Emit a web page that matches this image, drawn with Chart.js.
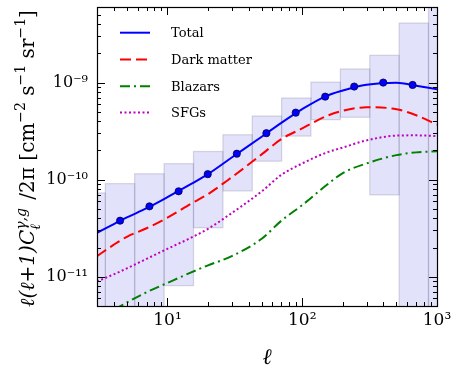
<!DOCTYPE html>
<html><head><meta charset="utf-8">
<script src="https://cdn.jsdelivr.net/npm/chart.js@4/dist/chart.umd.min.js"></script>
<style>html,body{margin:0;padding:0;background:#fff;}canvas{display:block;}</style>
</head><body>
<canvas id="c" width="463" height="371"></canvas>
<script>
// multipole grid for the model curves
const ell = [3, 4, 5, 7, 10, 15, 20, 30, 50, 70, 100, 150, 200, 300, 500, 700, 1000];
const total = [2.84e-11, 3.49e-11, 4.08e-11, 5.08e-11, 6.61e-11, 9.03e-11, 1.14e-10, 1.69e-10, 2.77e-10, 3.85e-10, 5.33e-10, 7.26e-10, 8.28e-10, 9.47e-10, 9.95e-10, 9.27e-10, 8.53e-10];
const darkMatter = [1.63e-11, 2.14e-11, 2.58e-11, 3.16e-11, 4.06e-11, 5.66e-11, 7.1e-11, 1.06e-10, 1.82e-10, 2.62e-10, 3.37e-10, 4.49e-10, 5.12e-10, 5.56e-10, 5.32e-10, 4.6e-10, 3.7e-10];
const blazars = [3.67e-12, 4.55e-12, 5.44e-12, 6.93e-12, 8.65e-12, 1.11e-11, 1.31e-11, 1.63e-11, 2.46e-11, 3.78e-11, 5.47e-11, 8.69e-11, 1.17e-10, 1.47e-10, 1.79e-10, 1.91e-10, 1.96e-10];
const sfgs = [8.95e-12, 1.06e-11, 1.22e-11, 1.53e-11, 1.94e-11, 2.53e-11, 3.12e-11, 4.53e-11, 7.57e-11, 1.12e-10, 1.47e-10, 1.89e-10, 2.14e-10, 2.54e-10, 2.84e-10, 2.86e-10, 2.81e-10];
// binned measurement boxes
const binEdges = [2.09, 3.46, 5.71, 9.44, 15.6, 25.8, 42.6, 70.3, 116, 192, 317, 524, 865, 1430];
const binLow  = [1e-13, 1e-13, 1e-13, 8.1e-12, 3.2e-11, 7.66e-11, 1.55e-10, 2.81e-10, 4.15e-10, 4.39e-10, 6.97e-11, 1e-13, 1e-13];
const binHigh = [7.3e-11, 9.1e-11, 1.15e-10, 1.46e-10, 1.95e-10, 2.9e-10, 4.52e-10, 6.93e-10, 1.01e-9, 1.38e-9, 1.91e-9, 4.1e-9, 1e-7];
// model total at bin centres
const binCenters = [4.45, 7.35, 12.1, 19.9, 32.7, 54.2, 89.5, 148, 243, 399, 659];
const binTotal = [3.78e-11, 5.31e-11, 7.59e-11, 1.14e-10, 1.85e-10, 3.01e-10, 4.9e-10, 7.16e-10, 9.1e-10, 1.0e-9, 9.45e-10];
const xTickLabels = {1: '10\u00B9', 2: '10\u00B2', 3: '10\u00B3'};
const yTickLabels = {'-11': '10\u207B\u00B9\u00B9', '-10': '10\u207B\u00B9\u2070', '-9': '10\u207B\u2079'};
const legendLabels = ['Total', 'Dark matter', 'Blazars', 'SFGs'];
const xLimits = [3, 1000];
const yLimits = [5e-12, 6e-9];

const SERIF = '"DejaVu Serif", "Liberation Serif", serif';
const pts = (xs, ys) => xs.map((x, i) => ({x: x, y: ys[i]}));

const styles = [
  {color: '#0000ff', dash: []},
  {color: '#ff0000', dash: [11, 5]},
  {color: '#008000', dash: [10, 4, 2, 4]},
  {color: '#bf00bf', dash: [2, 2.5]}
];
const series = [total, darkMatter, blazars, sfgs];

function decadeLabel(map, v) {
  const l = Math.log10(v);
  const r = Math.round(l);
  if (Math.abs(l - r) < 1e-6 && map[String(r)] !== undefined) return map[String(r)];
  return '';
}

const boxesPlugin = {
  id: 'boxes',
  beforeDatasetsDraw(chart) {
    const {ctx, chartArea: a, scales: {x, y}} = chart;
    ctx.save();
    ctx.beginPath();
    ctx.rect(a.left, a.top, a.right - a.left, a.bottom - a.top);
    ctx.clip();
    for (let i = 0; i < binLow.length; i++) {
      const x0 = x.getPixelForValue(binEdges[i]);
      const x1 = x.getPixelForValue(binEdges[i + 1]);
      const y0 = y.getPixelForValue(binHigh[i]);
      const y1 = y.getPixelForValue(binLow[i]);
      ctx.fillStyle = 'rgba(20,20,220,0.12)';
      ctx.fillRect(x0, y0, x1 - x0, y1 - y0);
      ctx.strokeStyle = 'rgba(130,130,160,0.3)';
      ctx.lineWidth = 1.2;
      ctx.strokeRect(x0, y0, x1 - x0, y1 - y0);
    }
    ctx.restore();
  }
};

const framePlugin = {
  id: 'frame',
  afterDraw(chart) {
    const {ctx, chartArea: a, scales: {x, y}} = chart;
    ctx.save();
    ctx.strokeStyle = '#000';
    ctx.lineWidth = 1;
    // minor / major ticks pointing inward, on all four sides
    for (let d = -13; d <= 4; d++) {
      for (let m = 1; m <= 9; m++) {
        const v = m * Math.pow(10, d);
        const len = m === 1 ? 8 : 4;
        if (v >= xLimits[0] * 0.9999 && v <= xLimits[1] * 1.0001) {
          const px = Math.round(x.getPixelForValue(v)) + 0.5;
          ctx.beginPath();
          ctx.moveTo(px, a.bottom); ctx.lineTo(px, a.bottom - len);
          ctx.moveTo(px, a.top); ctx.lineTo(px, a.top + len);
          ctx.stroke();
        }
        if (v >= yLimits[0] * 0.9999 && v <= yLimits[1] * 1.0001) {
          const py = Math.round(y.getPixelForValue(v)) + 0.5;
          ctx.beginPath();
          ctx.moveTo(a.left, py); ctx.lineTo(a.left + len, py);
          ctx.moveTo(a.right, py); ctx.lineTo(a.right - len, py);
          ctx.stroke();
        }
      }
    }
    ctx.lineWidth = 1.2;
    ctx.strokeRect(Math.round(a.left) + 0.5, Math.round(a.top) + 0.5,
                   Math.round(a.right - a.left), Math.round(a.bottom - a.top));

    // legend (inside the axes, no frame)
    const fs0 = 14;
    ctx.font = fs0 + 'px ' + SERIF;
    const w = ctx.measureText('Dark matter').width;
    const fs = fs0 * 81 / w;
    ctx.font = fs + 'px ' + SERIF;
    ctx.textBaseline = 'middle';
    ctx.textAlign = 'left';
    const rows = [32.7, 59.5, 86.2, 112.5];
    legendLabels.forEach((lab, i) => {
      const st = styles[i];
      ctx.beginPath();
      ctx.setLineDash(st.dash);
      ctx.strokeStyle = st.color;
      ctx.lineWidth = 2;
      ctx.moveTo(a.left + 23, rows[i]);
      ctx.lineTo(a.left + 53, rows[i]);
      ctx.stroke();
      ctx.setLineDash([]);
      ctx.fillStyle = '#000';
      ctx.fillText(lab, a.left + 74, rows[i] + 1);
    });

    // y-axis title with sub/superscripts
    const segs = [
      {t: '\u2113(\u2113+1)', it: true},
      {t: 'C', it: true},
      {stack: [{t: '\u03B3,g', it: true, dy: -0.42}, {t: '\u2113', it: true, dy: 0.28}]},
      {t: ' /2\u03C0 [cm'},
      {t: '\u22122', sup: true},
      {t: ' s'},
      {t: '\u22121', sup: true},
      {t: ' sr'},
      {t: '\u22121', sup: true},
      {t: ']'}
    ];
    const base = 20;
    const fontFor = (s, size) => (s.it ? 'italic ' : '') + size + 'px ' + SERIF;
    const measure = (size) => {
      let L = 0;
      segs.forEach(s => {
        if (s.stack) {
          let mw = 0;
          s.stack.forEach(q => { ctx.font = fontFor(q, size * 0.7); mw = Math.max(mw, ctx.measureText(q.t).width); });
          L += mw + size * 0.1;
        } else {
          ctx.font = fontFor(s, s.sup ? size * 0.7 : size);
          L += ctx.measureText(s.t).width;
        }
      });
      return L;
    };
    const L0 = measure(base);
    const size = base * 297 / L0;
    const L = measure(size);
    ctx.translate(34, 158.5);
    ctx.rotate(-Math.PI / 2);
    ctx.textBaseline = 'alphabetic';
    ctx.fillStyle = '#000';
    let cx = -L / 2;
    segs.forEach(s => {
      if (s.stack) {
        let mw = 0;
        s.stack.forEach(q => {
          ctx.font = fontFor(q, size * 0.7);
          ctx.fillText(q.t, cx, q.dy * size);
          mw = Math.max(mw, ctx.measureText(q.t).width);
        });
        cx += mw + size * 0.1;
      } else {
        const sz = s.sup ? size * 0.7 : size;
        ctx.font = fontFor(s, sz);
        ctx.fillText(s.t, cx, s.sup ? -0.45 * size : 0);
        cx += ctx.measureText(s.t).width;
      }
    });
    ctx.restore();
  }
};

const lineDatasets = series.map((s, i) => ({
  type: 'line',
  label: legendLabels[i],
  data: pts(ell, s),
  borderColor: styles[i].color,
  borderDash: styles[i].dash,
  borderWidth: 2,
  pointRadius: 0,
  fill: false,
  cubicInterpolationMode: 'monotone'
}));

const zeroPad = (s) => { s.paddingTop = 0; s.paddingBottom = 0; s.paddingLeft = 0; s.paddingRight = 0; };

new Chart(document.getElementById('c'), {
  type: 'line',
  data: {
    datasets: [
      {
        type: 'scatter',
        label: 'Total (bins)',
        data: pts(binCenters, binTotal),
        pointRadius: 3.6,
        pointBackgroundColor: '#0000ff',
        pointBorderColor: '#000040',
        pointBorderWidth: 0.8,
        showLine: false
      },
      ...lineDatasets
    ]
  },
  options: {
    responsive: false,
    animation: false,
    devicePixelRatio: 1,
    layout: {padding: {top: 7, right: 26, left: 0, bottom: 0}},
    plugins: {legend: {display: false}, tooltip: {enabled: false}},
    scales: {
      x: {
        type: 'logarithmic',
        position: 'bottom',
        min: xLimits[0], max: xLimits[1],
        grid: {display: false, drawTicks: false},
        border: {display: false},
        ticks: {
          autoSkip: false, maxRotation: 0, padding: 4, color: '#000',
          font: {family: SERIF, size: 17},
          callback: (v) => decadeLabel(xTickLabels, v)
        },
        title: {display: true, text: '\u2113', color: '#000', padding: {top: 0, bottom: 0},
                font: {family: SERIF, size: 22, style: 'italic'}},
        afterFit: (s) => { s.height = 65; zeroPad(s); }
      },
      y: {
        type: 'logarithmic',
        position: 'left',
        min: yLimits[0], max: yLimits[1],
        grid: {display: false, drawTicks: false},
        border: {display: false},
        ticks: {
          autoSkip: false, padding: 9, color: '#000',
          font: {family: SERIF, size: 16},
          callback: (v) => decadeLabel(yTickLabels, v)
        },
        afterFit: (s) => { s.width = 97; zeroPad(s); }
      }
    }
  },
  plugins: [boxesPlugin, framePlugin]
});
</script>
</body></html>
